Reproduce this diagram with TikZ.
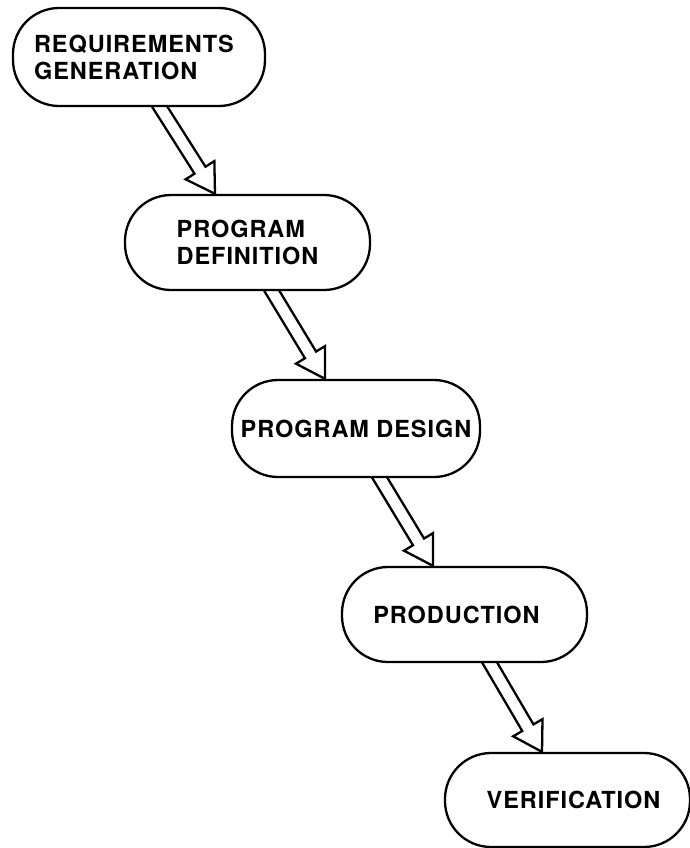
\documentclass[tikz,border=0pt]{standalone}
\usepackage{fontspec}
\setmainfont[LetterSpace=4]{TeX Gyre Heros}
\usetikzlibrary{calc,backgrounds}

\tikzset{
  stage/.style={draw, line width=2.3pt, rounded corners=46pt, fill=white,
    inner sep=0pt, align=left, font=\fontsize{23.5pt}{27pt}\selectfont\bfseries},
  hollow/.style={draw, line width=2.3pt, line join=miter},
}

% Hollow block arrow from #1 (start on a box edge) to #2 (tip).
% The shaft starts inside the source box, whose white fill hides its end.
\newcommand{\hollowflow}[2]{%
  \coordinate (#1-x) at ($(#1)!-12pt!(#2)$);
  \coordinate (#2-h) at ($(#2)!28pt!(#1)$);
  \draw[hollow]
    ($(#1-x)!6.5pt!90:(#2)$) -- ($(#2-h)!6.5pt!90:(#2)$)
    -- ($(#2-h)!17pt!90:(#2)$) -- (#2)
    -- ($(#2-h)!17pt!-90:(#2)$) -- ($(#2-h)!6.5pt!-90:(#2)$)
    -- ($(#1-x)!6.5pt!-90:(#2)$);
}

\begin{document}
\begin{tikzpicture}[x=1pt,y=-1pt]
\useasboundingbox (0,0) rectangle (689,848);

% the five stages
\node[stage, minimum width=252pt, minimum height=98pt] (req) at (139,57)
  {REQUIREMENTS\kern10pt\\GENERATION};
\node[stage, minimum width=245pt, minimum height=95pt] (def) at (247.5,242.5)
  {PROGRAM\\DEFINITION};
\node[stage, minimum width=248pt, minimum height=97pt] (des) at (356,428.5)
  {PROGRAM DESIGN};
\node[stage, minimum width=245pt, minimum height=95pt] (prod) at (464.5,614.5)
  {PRODUCTION\kern16pt};
\node[stage, minimum width=245pt, minimum height=94pt] (ver) at (567.5,800)
  {\kern12pt VERIFICATION};

% arrow end points on the box edges
\coordinate (s1) at ([xshift=21pt]req.south);
\coordinate (t1) at ([xshift=-32.5pt]def.north);
\coordinate (s2) at ([xshift=24.5pt]def.south);
\coordinate (t2) at ([xshift=-31pt]des.north);
\coordinate (s3) at ([xshift=24pt]des.south);
\coordinate (t3) at ([xshift=-31.5pt]prod.north);
\coordinate (s4) at ([xshift=25.5pt]prod.south);
\coordinate (t4) at ([xshift=-25.5pt]ver.north);

\begin{pgfonlayer}{background}
  \fill[white] (0,0) rectangle (689,848);
  \hollowflow{s1}{t1}
  \hollowflow{s2}{t2}
  \hollowflow{s3}{t3}
  \hollowflow{s4}{t4}
\end{pgfonlayer}
\end{tikzpicture}
\end{document}
